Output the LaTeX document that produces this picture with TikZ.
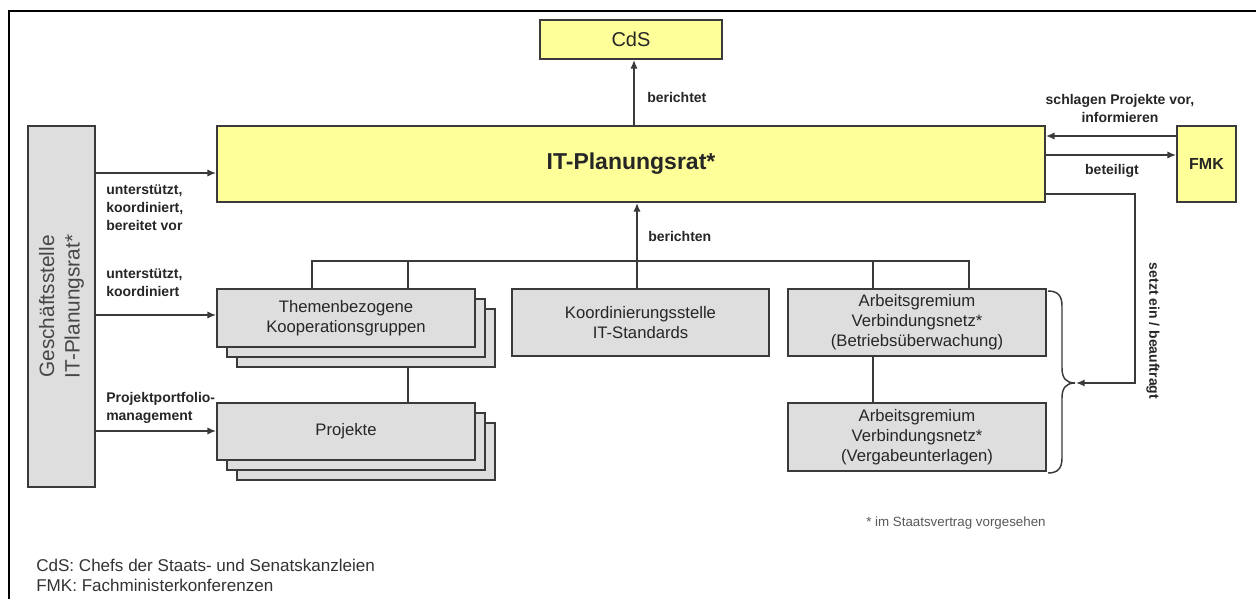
\documentclass[tikz,border=0pt]{standalone}
\usepackage{fontspec}
\setmainfont{Liberation Sans}
\usetikzlibrary{arrows.meta,fit}
\definecolor{boxyellow}{HTML}{FFFF99}
\definecolor{boxgray}{HTML}{DEDEDE}
\definecolor{linegray}{HTML}{3A3A3A}
\definecolor{txt}{HTML}{262626}
\begin{document}
\begin{tikzpicture}[x=0.75pt,y=-0.75pt,
  ybox/.style={draw=linegray, fill=boxyellow, line width=1.3pt, inner sep=0pt},
  gbox/.style={draw=linegray, fill=boxgray, line width=1.3pt, inner sep=0pt},
  btext/.style={align=center, text=txt, inner sep=0pt, font=\fontsize{12.5}{15}\selectfont},
  conn/.style={draw=linegray, line width=1.3pt},
  arr/.style={conn, -{Latex[length=6.5pt,width=5.5pt]}},
  lbl/.style={font=\bfseries\fontsize{10.5}{13.5}\selectfont, text=txt, inner sep=0pt},
]
\useasboundingbox (0,0) rectangle (1256,599);
\fill[white] (0,0) rectangle (1256,599);
\draw[line width=2pt] (9,599) -- (9,11) -- (1256,11);

% top boxes
\node[ybox, fit={(540,20)(722,59)}] (cds) {};
\node[btext, font=\fontsize{15}{18}\selectfont] (cdst) at (cds.center) {CdS};
\node[ybox, fit={(217,126)(1045,202)}] (itp) {};
\node[btext, font=\bfseries\fontsize{17.25}{20}\selectfont] (itpt) at (itp.center) {IT-Planungsrat*};
\node[ybox, fit={(1177,126)(1236,202)}] (fmk) {};
\node[btext, font=\bfseries\fontsize{12}{14}\selectfont] (fmkt) at (fmk.center) {FMK};

% Geschaeftsstelle
\node[gbox, fit={(28,126)(95,487)}] (gs) {};
\node[btext, rotate=90, font=\fontsize{15.6}{19}\selectfont, text=txt!85] (gst) at (gs.center) {Geschäftsstelle\\IT-Planungsrat*};

% stacked boxes
\node[gbox, fit={(237,309)(495,367)}] (them3) {};
\node[gbox, fit={(227,299)(485,357)}] (them2) {};
\node[gbox, fit={(217,289)(475,347)}] (them1) {};
\node[btext] (them1t) at (them1.center) {Themenbezogene\\Kooperationsgruppen};
\node[gbox, fit={(237,423)(495,480)}] (proj3) {};
\node[gbox, fit={(227,413)(485,470)}] (proj2) {};
\node[gbox, fit={(217,403)(475,460)}] (proj1) {};
\node[btext] (proj1t) at (proj1.center) {Projekte};

\node[gbox, fit={(512,289)(769,356)}] (koord) {};
\node[btext] (koordt) at (koord.center) {Koordinierungsstelle\\IT-Standards};
\node[gbox, fit={(788,289)(1046,356)}] (ag1) {};
\node[btext] (ag1t) at (ag1.center) {Arbeitsgremium\\Verbindungsnetz*\\(Betriebsüberwachung)};
\node[gbox, fit={(788,403)(1046,471)}] (ag2) {};
\node[btext] (ag2t) at (ag2.center) {Arbeitsgremium\\Verbindungsnetz*\\(Vergabeunterlagen)};

% helper coordinates
\coordinate (h1) at (0,173);
\coordinate (h2) at (0,315);
\coordinate (h3) at (0,431);
\coordinate (bx) at (634,0);
\coordinate (cx) at (637,0);
\coordinate (bus) at (0,261);
\coordinate (t1) at (312,0);
\coordinate (t2) at (408,0);
\coordinate (a1) at (873,0);
\coordinate (a2) at (969,0);
\coordinate (f1) at (0,136);
\coordinate (f2) at (0,155);
\coordinate (s1) at (0,194);
\coordinate (sx) at (1135,0);
\coordinate (brtip) at (1076,383);

% left arrows
\draw[arr] (gs.east |- h1) -- (itp.west |- h1);
\draw[arr] (gs.east |- h2) -- (them1.west |- h2);
\draw[arr] (gs.east |- h3) -- (proj1.west |- h3);
\node[lbl, anchor=north west, align=left] (l1) at (106,185) {unterstützt,\\koordiniert,\\bereitet vor};
\node[lbl, anchor=north west, align=left] (l2) at (106,269) {unterstützt,\\koordiniert};
\node[lbl, anchor=north west, align=left] (l3) at (106,392) {Projektportfolio-\\management};

% reporting arrows
\draw[arr] (itp.north -| bx) -- (cds.south -| bx);
\node[lbl, anchor=west] (l4) at (647,97) {berichtet};
\draw[arr] (koord.north -| cx) -- (itp.south -| cx);
\node[lbl, anchor=west] (l5) at (648,236) {berichten};

% tree
\draw[conn] (them1.north -| t1) -- (bus -| t1) -- (bus -| a2) -- (ag1.north -| a2);
\draw[conn] (them1.north -| t2) -- (bus -| t2);
\draw[conn] (ag1.north -| a1) -- (bus -| a1);
\draw[conn] (them3.south -| t2) -- (proj1.north -| t2);
\draw[conn] (ag1.south -| a1) -- (ag2.north -| a1);

% FMK arrows
\draw[arr] (fmk.west |- f1) -- (itp.east |- f1);
\draw[arr] (itp.east |- f2) -- (fmk.west |- f2);
\node[lbl, align=center] (l6) at (1120,108) {schlagen Projekte vor,\\informieren};
\node[lbl] (l7) at (1112,171) {beteiligt};

% setzt ein
\draw[arr] (itp.east |- s1) -- (sx |- s1) -- (sx |- brtip) -- (brtip);
\node[lbl, rotate=-90] (l8) at (1153,331) {setzt ein / beauftragt};

% brace
\draw[conn, line width=1.1pt] (1048,291) .. controls (1058,291) and (1062,296) .. (1062,306) -- (1062,368)
  .. controls (1062,378) and (1066,383) .. (1075,383)
  .. controls (1066,383) and (1062,388) .. (1062,398) -- (1062,458)
  .. controls (1062,468) and (1058,473) .. (1048,473);

% notes
\node[anchor=west, inner sep=0pt, font=\fontsize{10}{12}\selectfont, text=black!65] (fn) at (866,523) {* im Staatsvertrag vorgesehen};
\node[anchor=west, inner sep=0pt, font=\fontsize{12.8}{15}\selectfont, text=black!80] (lg1) at (36,565) {CdS: Chefs der Staats- und Senatskanzleien};
\node[anchor=west, inner sep=0pt, font=\fontsize{12.8}{15}\selectfont, text=black!80] (lg2) at (36,585) {FMK: Fachministerkonferenzen};
\end{tikzpicture}
\end{document}
